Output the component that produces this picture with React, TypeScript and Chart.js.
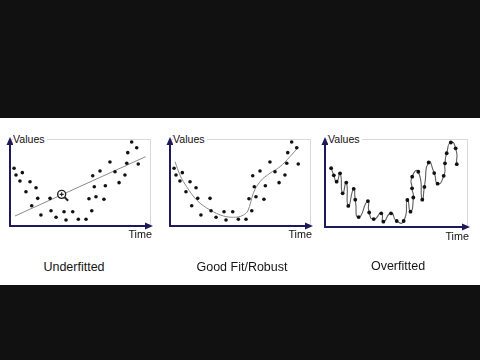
import React, { useEffect, useRef } from "react";
import { Chart, registerables } from "chart.js";

Chart.register(...registerables);

// Noisy observations shared by the first two panels (time, value on a 0–100 scale)
const sampleTime = [
  2.9, 4.3, 8.8, 7.1, 14.3, 11.4, 18.6, 19.8, 15.5, 22.1, 28.6, 29.3, 32.9, 38.6, 40.0, 44.8, 48.8, 54.3,
  58.4, 56.4, 59.1, 60.2, 61.4, 64.3, 67.1, 68.1, 71.4, 75.0, 77.9, 82.1, 83.4, 84.1, 86.9, 90.5, 91.6,
];
const sampleValue = [
  66.3, 58.6, 61.3, 51.7, 50.9, 39.4, 44.0, 31.8, 23.3, 12.6, 31.8, 17.6, 10.0, 16.4, 6.9, 16.4, 7.7, 7.7,
  17.6, 31.4, 57.8, 45.2, 33.7, 63.2, 30.7, 46.3, 73.6, 62.4, 49.8, 58.6, 72.1, 84.3, 96.6, 90.0, 71.3,
];

// Straight-line model
const linearFitTime = [3.6, 96.9];
const linearFitValue = [11.5, 79.7];

// Magnifier marker sitting on the straight line
const cursorTime = [36.9];
const cursorValue = [36.4];

// Smooth model through the U-shaped trend
const smoothFitTime = [3.6, 7.1, 11.9, 19.0, 28.6, 38.1, 45.2, 52.4, 55.9, 59.5, 64.3, 71.4, 78.6, 85.7, 91.6];
const smoothFitValue = [73.9, 58.6, 45.2, 29.9, 18.4, 11.5, 10.0, 12.6, 18.4, 37.6, 50.9, 60.6, 68.2, 79.7, 90.5];

// Observations of the third panel, listed in the order the curve visits them
const overTime = [
  4.3, 6.2, 8.2, 10.6, 12.4, 15.0, 16.4, 20.2, 21.3, 23.7, 30.2, 31.1, 34.3, 39.6, 41.1, 46.5, 50.5, 55.4,
  58.0, 60.2, 62.2, 61.3, 61.4, 65.7, 68.5, 70.0, 73.0, 76.9, 79.3, 83.6, 84.5, 85.7, 88.6, 92.0, 92.8,
];
const overValue = [
  66.8, 58.7, 51.5, 61.0, 38.3, 50.5, 24.0, 43.4, 31.0, 11.3, 29.5, 16.5, 9.0, 15.5, 6.0, 15.5, 6.8, 6.8,
  30.7, 17.4, 33.5, 44.0, 57.2, 62.8, 31.0, 45.5, 73.3, 61.3, 49.2, 58.2, 72.4, 83.8, 96.0, 89.4, 71.4,
];

const captions = ["Underfitted", "Good Fit/Robust", "Overfitted"];
const yAxisLabel = "Values";
const xAxisLabel = "Time";

const NAVY = "#1c1a5c";
const FONT = '"Liberation Sans", Arial, sans-serif';

const zip = (xs: number[], ys: number[]) => xs.map((x, i) => ({ x, y: ys[i] }));

const dotsDataset = (xs: number[], ys: number[]) => ({
  label: "samples",
  data: zip(xs, ys),
  pointRadius: 1.8,
  pointBackgroundColor: "#111",
  pointBorderWidth: 0,
  showLine: false,
  clip: false as const,
  order: 0,
});

const lineDataset = (xs: number[], ys: number[], tension: number, color: string, withPoints = false) => ({
  label: "model",
  data: zip(xs, ys),
  showLine: true,
  borderColor: color,
  borderWidth: 1,
  tension,
  pointRadius: withPoints ? 1.9 : 0,
  pointBackgroundColor: "#111",
  pointBorderWidth: 0,
  clip: false as const,
  order: 1,
});

// Axis arrows and the light frame around each plotting area
const framePlugin = {
  id: "frame",
  beforeDatasetsDraw(chart: any) {
    const { ctx, chartArea: a } = chart;
    ctx.save();
    ctx.strokeStyle = "#d9d9d9";
    ctx.lineWidth = 1;
    ctx.beginPath();
    ctx.moveTo(a.left, a.top + 0.5);
    ctx.lineTo(a.right + 0.5, a.top + 0.5);
    ctx.lineTo(a.right + 0.5, a.bottom);
    ctx.stroke();

    ctx.strokeStyle = NAVY;
    ctx.fillStyle = NAVY;
    ctx.lineWidth = 2;
    const tipY = a.top - 2;
    const tipX = a.right + 3;
    ctx.beginPath();
    ctx.moveTo(a.left, tipY + 6);
    ctx.lineTo(a.left, a.bottom);
    ctx.lineTo(tipX - 6, a.bottom);
    ctx.stroke();
    ctx.beginPath();
    ctx.moveTo(a.left, tipY);
    ctx.lineTo(a.left - 3.5, tipY + 8);
    ctx.lineTo(a.left + 3.5, tipY + 8);
    ctx.closePath();
    ctx.fill();
    ctx.beginPath();
    ctx.moveTo(tipX, a.bottom);
    ctx.lineTo(tipX - 8, a.bottom - 3.5);
    ctx.lineTo(tipX - 8, a.bottom + 3.5);
    ctx.closePath();
    ctx.fill();
    ctx.restore();
  },
  afterDatasetsDraw(chart: any) {
    const { ctx } = chart;
    chart.data.datasets.forEach((ds: any, i: number) => {
      if (ds.label !== "cursor") return;
      const meta = chart.getDatasetMeta(i);
      meta.data.forEach((pt: any) => {
        ctx.save();
        ctx.strokeStyle = "#222";
        ctx.lineWidth = 2;
        ctx.beginPath();
        ctx.moveTo(pt.x + 3.2, pt.y + 3.2);
        ctx.lineTo(pt.x + 6.5, pt.y + 6.5);
        ctx.stroke();
        ctx.restore();
      });
    });
  },
};

type PanelProps = {
  left: number;
  top: number;
  width: number;
  height: number;
  plotHeight: number;
  datasets: any[];
};

function Panel({ left, top, width, height, plotHeight, datasets }: PanelProps) {
  const ref = useRef<HTMLCanvasElement>(null);
  useEffect(() => {
    const chart = new Chart(ref.current as HTMLCanvasElement, {
      type: "scatter",
      data: { datasets },
      options: {
        animation: false,
        responsive: false,
        maintainAspectRatio: false,
        events: [],
        layout: { padding: { left: 10, top: 21, right: 10, bottom: height - 21 - plotHeight } },
        plugins: { legend: { display: false }, tooltip: { enabled: false } },
        elements: { line: { capBezierPoints: false } },
        scales: {
          x: { type: "linear", min: 0, max: 100, display: false },
          y: { type: "linear", min: 0, max: 100, display: false },
        },
      },
      plugins: [framePlugin],
    } as any);
    return () => chart.destroy();
  }, []);
  return (
    <canvas
      ref={ref}
      width={width}
      height={height}
      style={{ position: "absolute", left, top, width, height }}
    />
  );
}

function AxisText({ boxLeft, boxTop, boxRight, boxBottom, timeOffset }: any) {
  return (
    <>
      <span
        style={{
          position: "absolute",
          left: boxLeft + 3,
          top: boxTop - 6,
          font: `10.6px ${FONT}`,
          lineHeight: "12px",
          color: "#111",
          background: "#fff",
          paddingRight: 2,
        }}
      >
        {yAxisLabel}
      </span>
      <span
        style={{
          position: "absolute",
          left: boxRight - 60,
          width: 62,
          textAlign: "right",
          top: boxBottom + timeOffset,
          font: `10.8px ${FONT}`,
          lineHeight: "12px",
          color: "#111",
        }}
      >
        {xAxisLabel}
      </span>
    </>
  );
}

export default function App() {
  const panelA = [
    dotsDataset(sampleTime, sampleValue),
    lineDataset(linearFitTime, linearFitValue, 0, "#8a8a8a"),
    {
      label: "cursor",
      data: zip(cursorTime, cursorValue),
      pointRadius: 4,
      pointStyle: "circle",
      pointBackgroundColor: "#fff",
      pointBorderColor: "#222",
      pointBorderWidth: 1.4,
      showLine: false,
      clip: false,
      order: -1,
    },
    {
      label: "cursor-centre",
      data: zip(cursorTime, cursorValue),
      pointRadius: 2,
      pointStyle: "cross",
      pointBorderColor: "#222",
      pointBorderWidth: 1.2,
      showLine: false,
      clip: false,
      order: -2,
    },
  ];
  const panelB = [
    dotsDataset(sampleTime, sampleValue),
    { ...lineDataset(smoothFitTime, smoothFitValue, 0.4, "#8a8a8a"), cubicInterpolationMode: "monotone" },
  ];
  const panelC = [{ ...lineDataset(overTime, overValue, 0.75, "#5e5e5e", true), borderWidth: 1.1 }];

  const captionCentres = [74, 242, 398];

  return (
    <div
      style={{
        position: "fixed",
        left: 0,
        top: 0,
        width: 480,
        height: 360,
        background: "#111",
        overflow: "hidden",
      }}
    >
      <div style={{ position: "absolute", left: 0, top: 118, width: 480, height: 167, background: "#fff" }} />
      <Panel left={0} top={118} width={160} height={130} plotHeight={87} datasets={panelA} />
      <Panel left={160} top={118} width={160} height={130} plotHeight={87} datasets={panelB} />
      <Panel left={315} top={118} width={162} height={131} plotHeight={88} datasets={panelC} />
      <AxisText boxLeft={10} boxTop={139} boxRight={150} boxBottom={226} timeOffset={2} />
      <AxisText boxLeft={170} boxTop={139} boxRight={310} boxBottom={226} timeOffset={2} />
      <AxisText boxLeft={325} boxTop={139} boxRight={467} boxBottom={227} timeOffset={3} />
      {captions.map((c, i) => (
        <div
          key={c}
          style={{
            position: "absolute",
            left: captionCentres[i] - 80,
            width: 160,
            top: i === 2 ? 258 : 259,
            textAlign: "center",
            font: `12.5px ${FONT}`,
            lineHeight: "16px",
            color: "#151515",
          }}
        >
          {c}
        </div>
      ))}
    </div>
  );
}
